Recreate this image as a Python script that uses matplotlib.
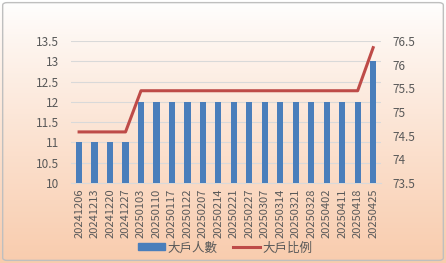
import matplotlib.pyplot as plt
import numpy as np
from matplotlib.patches import FancyBboxPatch
from matplotlib.lines import Line2D
from matplotlib.patches import Patch

plt.rcParams['font.family'] = ['Noto Sans CJK TC', 'DejaVu Sans']

dates = ['20241206', '20241213', '20241220', '20241227', '20250103', '20250110',
         '20250117', '20250122', '20250207', '20250214', '20250221', '20250227',
         '20250307', '20250314', '20250321', '20250328', '20250402', '20250411',
         '20250418', '20250425']
holders = [11, 11, 11, 11, 12, 12, 12, 12, 12, 12, 12, 12, 12, 12, 12, 12, 12, 12, 12, 13]
ratio = [74.58, 74.58, 74.58, 74.58, 75.45, 75.45, 75.45, 75.45, 75.45, 75.45,
         75.45, 75.45, 75.45, 75.45, 75.45, 75.45, 75.45, 75.45, 75.45, 76.36]

txt = '#595959'
fig = plt.figure(figsize=(4.46, 2.63), dpi=100)

# gradient background
bg = fig.add_axes([0, 0, 1, 1], zorder=-10)
grad = np.linspace(0, 1, 256).reshape(-1, 1)
top = np.array([1.0, 1.0, 1.0])
bot = np.array([0.975, 0.80, 0.68])
img = top + (bot - top) * grad[..., None] ** 0.9
bg.imshow(img, aspect='auto', extent=[0, 1, 0, 1], origin='upper')
bg.add_patch(FancyBboxPatch((0.006, 0.01), 0.988, 0.98, boxstyle='round,pad=0,rounding_size=0.01',
                            fill=False, edgecolor='#BFBFBF', linewidth=1.0, transform=bg.transAxes))
bg.set_xlim(0, 1)
bg.set_ylim(0, 1)
bg.axis('off')

ax = fig.add_axes([0.16, 0.304, 0.694, 0.54])
ax.patch.set_alpha(0)
x = np.arange(len(dates))
ax.bar(x, holders, width=0.4, color='#4A7EBB', zorder=3)
ax.set_ylim(10, 13.5)
ax.set_yticks(np.arange(10, 13.51, 0.5))
ax.set_yticklabels(['10', '10.5', '11', '11.5', '12', '12.5', '13', '13.5'])
ax.set_xlim(-0.5, len(dates) - 0.5)
ax.set_xticks(x)
ax.set_xticklabels(dates, rotation=90)
ax.grid(axis='y', color='#D9D9D9', linewidth=0.8, zorder=0)
for s in ['top', 'right', 'left']:
    ax.spines[s].set_visible(False)
ax.spines['bottom'].set_color('#D9D9D9')
ax.tick_params(axis='y', length=0, labelsize=8.5, colors=txt, pad=9)
ax.tick_params(axis='x', length=0, labelsize=8.0, colors=txt, pad=4)

ax2 = ax.twinx()
ax2.plot(x, ratio, color='#BE4B48', linewidth=2.2, zorder=4)
ax2.set_ylim(73.5, 76.5)
ax2.set_yticks(np.arange(73.5, 76.51, 0.5))
ax2.set_yticklabels(['73.5', '74', '74.5', '75', '75.5', '76', '76.5'])
for s in ax2.spines.values():
    s.set_visible(False)
ax2.tick_params(length=0, labelsize=8.5, colors=txt, pad=8)

handles = [Patch(color='#4A7EBB'), Line2D([], [], color='#BE4B48', linewidth=2.2)]
fig.legend(handles, ['大戶人數', '大戶比例'], loc='center', bbox_to_anchor=(0.505, 0.058),
           ncol=2, frameon=False, fontsize=9, labelcolor=txt, handlelength=2.1,
           handleheight=0.45, columnspacing=1.3, handletextpad=0.2)

fig.savefig('out.png', dpi=100)
